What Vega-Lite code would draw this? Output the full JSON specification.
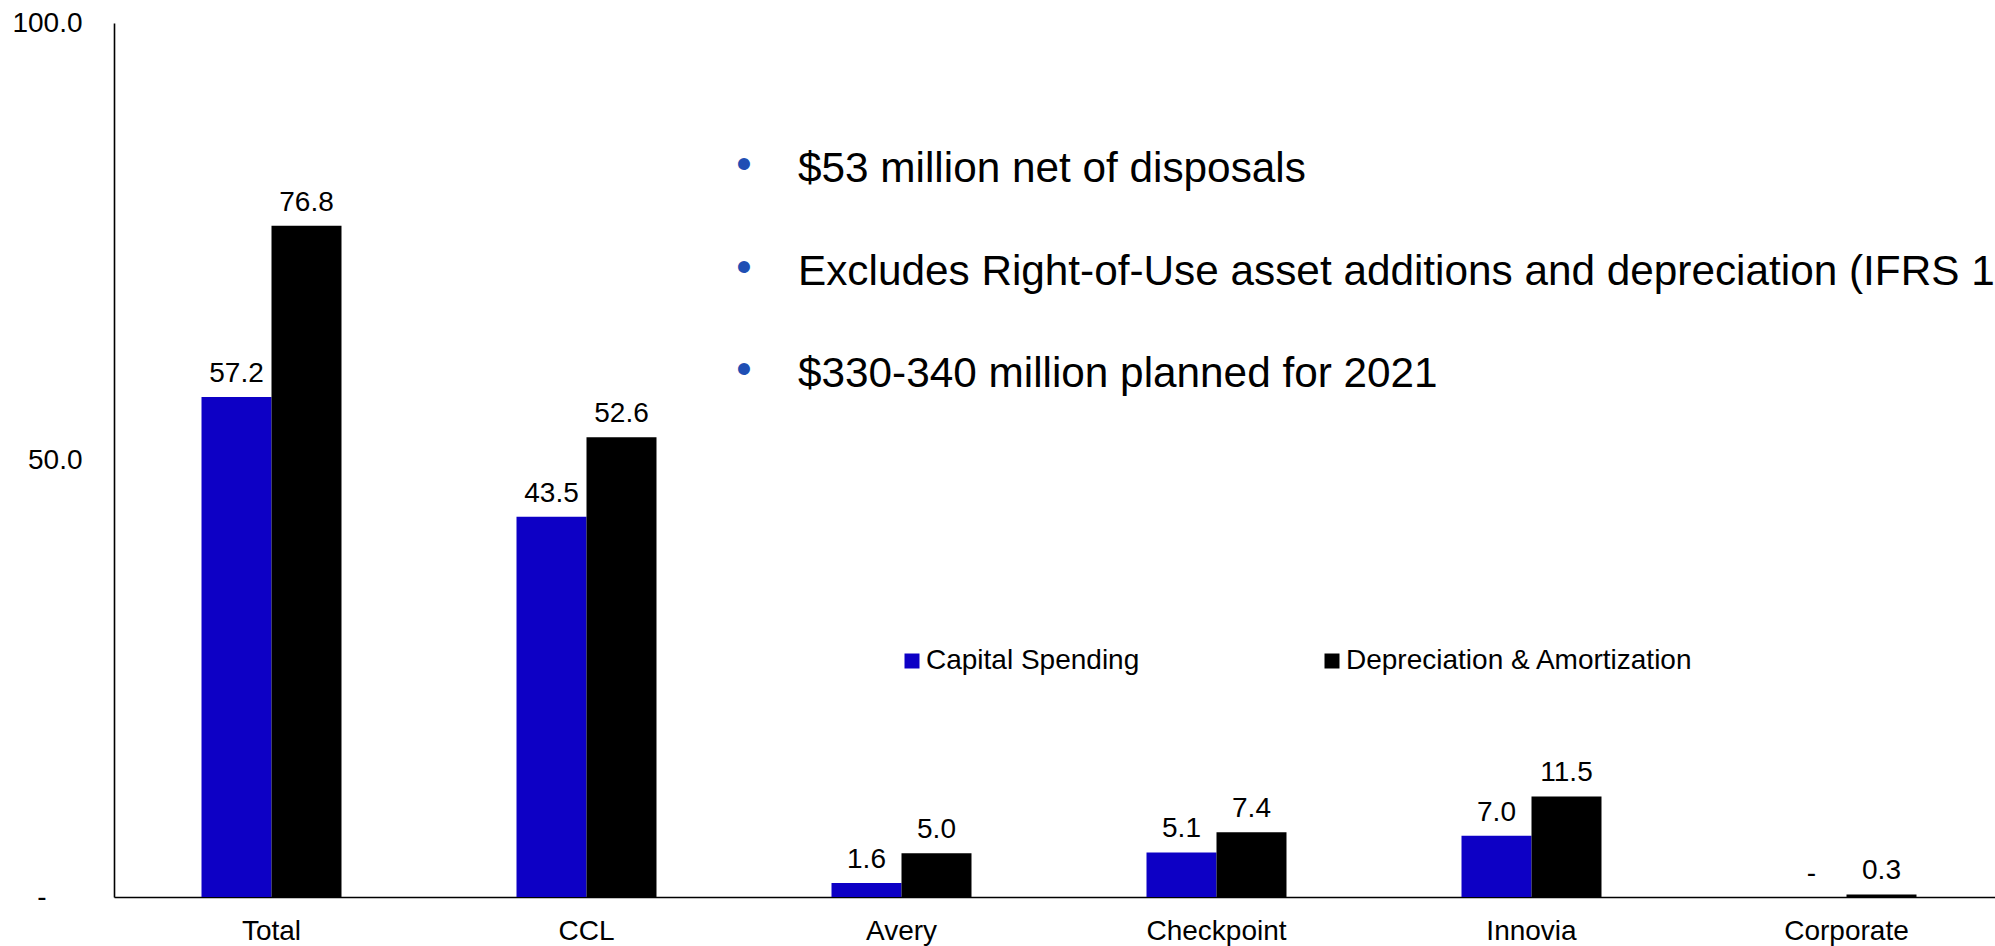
{
  "$schema": "https://vega.github.io/schema/vega-lite/v6.json",
  "width": 1881,
  "height": 874,
  "autosize": {"type": "none"},
  "padding": {"left": 114, "top": 23, "right": 0, "bottom": 49},
  "background": "white",
  "config": {"view": {"stroke": null}, "font": "Liberation Sans", "text": {"font": "Liberation Sans"}},
  "layer": [
    {
      "data": {"values": [
        {"segment": "Total", "series": "Capital Spending", "value": 57.2},
        {"segment": "Total", "series": "Depreciation & Amortization", "value": 76.8},
        {"segment": "CCL", "series": "Capital Spending", "value": 43.5},
        {"segment": "CCL", "series": "Depreciation & Amortization", "value": 52.6},
        {"segment": "Avery", "series": "Capital Spending", "value": 1.6},
        {"segment": "Avery", "series": "Depreciation & Amortization", "value": 5.0},
        {"segment": "Checkpoint", "series": "Capital Spending", "value": 5.1},
        {"segment": "Checkpoint", "series": "Depreciation & Amortization", "value": 7.4},
        {"segment": "Innovia", "series": "Capital Spending", "value": 7.0},
        {"segment": "Innovia", "series": "Depreciation & Amortization", "value": 11.5},
        {"segment": "Corporate", "series": "Capital Spending", "value": 0},
        {"segment": "Corporate", "series": "Depreciation & Amortization", "value": 0.3}
      ]},
      "transform": [{"calculate": "datum.value == 0 ? '-' : format(datum.value, '.1f')", "as": "label"}],
      "encoding": {
        "x": {
          "field": "segment", "type": "nominal",
          "scale": {"domain": ["Total", "CCL", "Avery", "Checkpoint", "Innovia", "Corporate"], "range": [0, 1890], "paddingInner": 0.5556, "paddingOuter": 0.2778},
          "axis": {"title": null, "labelAngle": 0, "ticks": false, "tickSize": 0, "labelPadding": 20, "labelFontSize": 28, "labelColor": "#000000", "domainColor": "#000000", "domainWidth": 1.6, "grid": false, "labelFont": "Liberation Sans"}
        },
        "xOffset": {"field": "series", "type": "nominal", "sort": ["Capital Spending", "Depreciation & Amortization"], "scale": {"paddingInner": 0, "paddingOuter": 0}},
        "y": {
          "field": "value", "type": "quantitative",
          "scale": {"domain": [0, 100], "nice": false},
          "axis": {"title": null, "values": [0, 50, 100], "labelExpr": "datum.value == 0 ? '-' : format(datum.value, '.1f')", "ticks": false, "tickSize": 0,
            "labelPadding": {"condition": {"test": "datum.value == 0", "value": 68}, "value": 32},
            "labelFontSize": 28, "labelColor": "#000000", "domainColor": "#000000", "domainWidth": 1.6, "grid": false, "labelFont": "Liberation Sans"}
        }
      },
      "layer": [
        {
          "mark": {"type": "bar"},
          "encoding": {
            "color": {
              "field": "series", "type": "nominal",
              "scale": {"domain": ["Capital Spending", "Depreciation & Amortization"], "range": ["#0D00C5", "#000000"]},
              "legend": {"title": null, "orient": "none", "legendX": 784, "legendY": 624, "direction": "horizontal", "symbolType": "square", "symbolSize": 225, "symbolStrokeWidth": 0, "symbolOpacity": 1, "labelFontSize": 28, "labelOffset": 0, "columnPadding": 178, "padding": 0, "labelColor": "#000000", "labelFont": "Liberation Sans", "labelLimit": 600}
            }
          }
        },
        {
          "mark": {"type": "text", "baseline": "alphabetic", "dy": -15, "fontSize": 28, "color": "#000000"},
          "encoding": {"text": {"field": "label"}}
        }
      ]
    },
    {
      "data": {"values": [
        {"segment": "Avery", "note": "$53 million net of disposals", "pos": 81.8},
        {"segment": "Avery", "note": "Excludes Right-of-Use asset additions and depreciation (IFRS 16)", "pos": 70.0},
        {"segment": "Avery", "note": "$330-340 million planned for 2021", "pos": 58.4}
      ]},
      "encoding": {
        "x": {"field": "segment", "type": "nominal"},
        "y": {"field": "pos", "type": "quantitative"}
      },
      "layer": [
        {
          "mark": {"type": "text", "align": "left", "baseline": "alphabetic", "dx": -103.5, "fontSize": 42.3, "color": "#000000"},
          "encoding": {"text": {"field": "note"}}
        },
        {
          "mark": {"type": "text", "align": "center", "baseline": "alphabetic", "dx": -157.5, "dy": -3, "fontSize": 44, "color": "#1F4FB4", "text": "•"},
          "encoding": {}
        }
      ]
    }
  ]
}
